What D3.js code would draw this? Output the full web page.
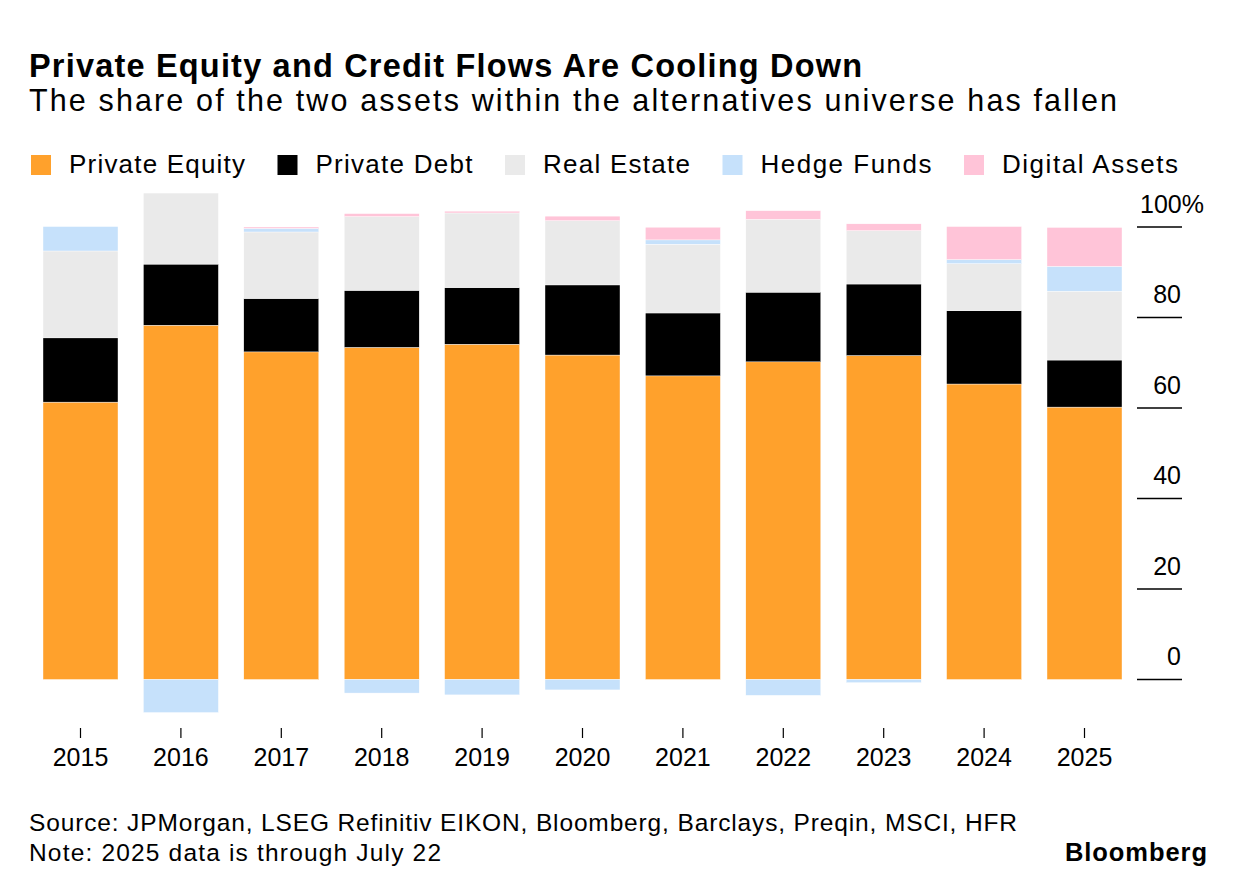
<!DOCTYPE html>
<html>
<head>
<meta charset="utf-8">
<script src="https://cdn.jsdelivr.net/npm/d3@7"></script>
<style>
  html, body { margin: 0; padding: 0; background: #fff; }
  svg { display: block; }
  text { font-family: "Liberation Sans", Arial, sans-serif; fill: #000; }
</style>
</head>
<body>
<svg id="chart" width="1237" height="894"></svg>
<script>
// ---- data ----
const years = ["2015","2016","2017","2018","2019","2020","2021","2022","2023","2024","2025"];
const privateEquity = [61.3, 78.3, 72.4, 73.4, 74.1, 71.7, 67.1, 70.2, 71.6, 65.3, 60.2];
const privateDebt   = [14.2, 13.5, 11.8, 12.6, 12.5, 15.5, 13.9, 15.4, 15.8, 16.2, 10.4];
const realEstate    = [19.2, 15.7, 14.7, 16.3, 16.5, 14.2, 15.2, 16.1, 11.8, 10.4, 15.2];
const hedgeFunds    = [5.4, -7.3, 0.8, -3.0, -3.4, -2.3, 0.95, -3.5, -0.7, 0.9, 5.5];
const digitalAssets = [0, 0, 0.3, 0.66, 0.4, 1.0, 2.8, 1.9, 1.5, 7.3, 8.6];
const seriesNames = ["Private Equity", "Private Debt", "Real Estate", "Hedge Funds", "Digital Assets"];
const seriesColors = ["#FFA12C", "#000000", "#EAEAEA", "#C6E1FB", "#FFC4D8"];
const yTicks = [0, 20, 40, 60, 80, 100];

const title = "Private Equity and Credit Flows Are Cooling Down";
const subtitle = "The share of the two assets within the alternatives universe has fallen";
const sourceText = "Source: JPMorgan, LSEG Refinitiv EIKON, Bloomberg, Barclays, Preqin, MSCI, HFR";
const noteText = "Note: 2025 data is through July 22";

// ---- table ----
const seriesValues = [privateEquity, privateDebt, realEstate, hedgeFunds, digitalAssets];
const table = years.map((y, i) => {
  const row = { year: y };
  seriesNames.forEach((s, k) => row[s] = seriesValues[k][i]);
  return row;
});

const svg = d3.select("#chart");

// stretch a text's tracking so that it spans a given width (the original face is wider)
function fit(sel, target) {
  const node = sel.node();
  const w = node.getComputedTextLength();
  const n = node.textContent.length;
  const ls = (target - w) / Math.max(1, n - 1);
  sel.style("letter-spacing", ls.toFixed(3) + "px");
  return sel;
}

// ---- scales ----
const x = d3.scaleBand().domain(years).range([30.3, 1134.7]).paddingInner(0.253).paddingOuter(0.1265);
const y = d3.scaleLinear().domain([0, 100]).range([679.5, 227]);
const color = d3.scaleOrdinal().domain(seriesNames).range(seriesColors);

// ---- titles ----
fit(svg.append("text").attr("x", 29).attr("y", 76.5).attr("font-size", 32.5).attr("font-weight", 700).text(title), 833);
fit(svg.append("text").attr("x", 29).attr("y", 111).attr("font-size", 30.5).text(subtitle), 1088);

// ---- legend ----
const legendWidths = [176, 157, 147, 171, 176];
const legend = svg.append("g");
let lx = 31;
seriesNames.forEach((name, i) => {
  const g = legend.append("g");
  g.append("rect").attr("x", lx).attr("y", 155).attr("width", 20).attr("height", 20).attr("fill", color(name));
  fit(g.append("text").attr("x", lx + 38).attr("y", 173).attr("font-size", 26).text(name), legendWidths[i]);
  lx += 38 + legendWidths[i] + 32.5;
});

// ---- bars ----
const stack = d3.stack().keys(seriesNames).offset(d3.stackOffsetDiverging);
const stacked = stack(table);
svg.append("g").selectAll("g").data(stacked).join("g")
  .attr("fill", d => color(d.key))
  .selectAll("rect").data(d => d).join("rect")
  .attr("x", d => x(d.data.year))
  .attr("width", x.bandwidth())
  .attr("y", d => y(Math.max(d[0], d[1])))
  .attr("height", d => Math.abs(y(d[0]) - y(d[1])))
  .attr("stroke", "#fff").attr("stroke-width", 0.4);

// ---- y axis (right) ----
const yAxis = svg.append("g");
yTicks.forEach(t => {
  yAxis.append("line").attr("x1", 1137).attr("x2", 1182).attr("y1", y(t)).attr("y2", y(t))
    .attr("stroke", "#000").attr("stroke-width", 1.5);
  yAxis.append("text").attr("x", t === 100 ? 1204 : 1181).attr("y", y(t) - 14.5)
    .attr("text-anchor", "end").attr("font-size", 25).text(t === 100 ? "100%" : t);
});

// ---- x axis ----
const xAxis = svg.append("g");
years.forEach(yr => {
  const cx = x(yr) + x.bandwidth() / 2;
  xAxis.append("line").attr("x1", cx).attr("x2", cx).attr("y1", 728).attr("y2", 738)
    .attr("stroke", "#000").attr("stroke-width", 1.2);
  xAxis.append("text").attr("x", cx).attr("y", 766).attr("text-anchor", "middle")
    .attr("font-size", 25).text(yr);
});

// ---- footer ----
fit(svg.append("text").attr("x", 29).attr("y", 831).attr("font-size", 24.5).text(sourceText), 988);
fit(svg.append("text").attr("x", 29).attr("y", 861).attr("font-size", 24.5).text(noteText), 412);
const bb = svg.append("text").attr("x", 1065).attr("y", 861)
  .attr("font-size", 25.5).attr("font-weight", 700).text("Bloomberg");
fit(bb, 142);
</script>
</body>
</html>
